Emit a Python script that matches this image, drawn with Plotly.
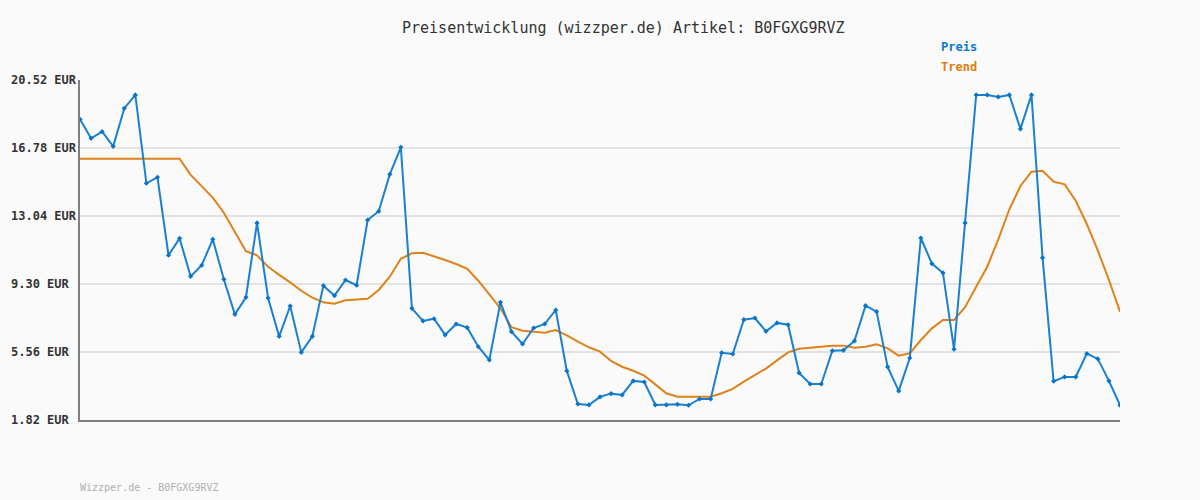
import plotly.graph_objects as go

preis = [18.36, 17.31, 17.68, 16.87, 18.96, 19.70, 14.84, 15.17, 10.88, 11.81,
         9.72, 10.33, 11.76, 9.56, 7.63, 8.57, 12.66, 8.53, 6.42, 8.09,
         5.54, 6.42, 9.21, 8.66, 9.52, 9.23, 12.82, 13.30, 15.33, 16.82,
         7.96, 7.27, 7.39, 6.50, 7.10, 6.90, 5.85, 5.12, 8.29, 6.68,
         6.00, 6.88, 7.10, 7.87, 4.52, 2.70, 2.65, 3.09, 3.27, 3.20,
         3.97, 3.91, 2.65, 2.65, 2.68, 2.63, 2.98, 2.98, 5.52, 5.45,
         7.34, 7.43, 6.70, 7.16, 7.06, 4.41, 3.80, 3.80, 5.63, 5.65,
         6.17, 8.11, 7.78, 4.74, 3.42, 5.23, 11.83, 10.42, 9.91, 5.71,
         12.66, 19.70, 19.70, 19.59, 19.70, 17.83, 19.70, 10.75, 3.95, 4.19,
         4.19, 5.47, 5.18, 3.97, 2.63]

trend = [16.19, 16.19, 16.19, 16.19, 16.19, 16.19, 16.19, 16.19, 16.19, 16.19,
         15.30, 14.65, 14.05, 13.22, 12.18, 11.10, 10.88, 10.25, 9.80, 9.39,
         8.93, 8.55, 8.29, 8.22, 8.40, 8.46, 8.49, 8.97, 9.70, 10.69,
         10.99, 11.02, 10.84, 10.62, 10.40, 10.14, 9.48, 8.70, 7.96, 6.92,
         6.73, 6.68, 6.62, 6.77, 6.48, 6.13, 5.82, 5.58, 5.07, 4.75,
         4.53, 4.26, 3.80, 3.29, 3.10, 3.10, 3.10, 3.10, 3.29, 3.53,
         3.93, 4.30, 4.65, 5.10, 5.54, 5.74, 5.80, 5.85, 5.91, 5.91,
         5.80, 5.85, 5.98, 5.76, 5.36, 5.49, 6.22, 6.86, 7.32, 7.32,
         8.02, 9.15, 10.25, 11.76, 13.41, 14.69, 15.48, 15.53, 14.93, 14.78,
         13.88, 12.60, 11.13, 9.52, 7.78]

punkte = list(range(len(preis)))

y_ticks = [1.82, 5.56, 9.30, 13.04, 16.78, 20.52]
y_tick_labels = ["1.82 EUR", "5.56 EUR", "9.30 EUR", "13.04 EUR", "16.78 EUR", "20.52 EUR"]

title_text = "Preisentwicklung (wizzper.de) Artikel: B0FGXG9RVZ"
footer_text = "Wizzper.de - B0FGXG9RVZ"

BLUE = "#1a80d0"
ORANGE = "#e0821a"
MONO = "DejaVu Sans Mono"

fig = go.Figure()

fig.add_trace(go.Scatter(
    x=punkte, y=trend, mode="lines", name="Trend",
    line=dict(color=ORANGE, width=2), hoverinfo="skip"))

fig.add_trace(go.Scatter(
    x=punkte, y=preis, mode="lines+markers", name="Preis",
    line=dict(color=BLUE, width=2),
    marker=dict(symbol="diamond", size=4, color="#0a74c8"),
    hoverinfo="skip"))

annotations = []
for v, lab in zip(y_ticks, y_tick_labels):
    annotations.append(dict(
        xref="paper", x=0, xanchor="left", xshift=-71,
        yref="y", y=v, yanchor="middle",
        text="<b>" + lab + "</b>", showarrow=False,
        font=dict(family=MONO, size=12, color="#333333")))

annotations.append(dict(
    xref="paper", x=(623 - 80) / 1040, xanchor="center",
    yref="paper", y=(420 - 28) / 340, yanchor="middle",
    text=title_text, showarrow=False,
    font=dict(family=MONO, size=15, color="#333333")))

annotations.append(dict(
    xref="paper", x=(939 - 80) / 1040, xanchor="left",
    yref="paper", y=(420 - 47) / 340, yanchor="middle",
    text="<b>Preis</b>", showarrow=False,
    font=dict(family=MONO, size=12, color="#0a78c8")))
annotations.append(dict(
    xref="paper", x=(939 - 80) / 1040, xanchor="left",
    yref="paper", y=(420 - 67) / 340, yanchor="middle",
    text="<b>Trend</b>", showarrow=False,
    font=dict(family=MONO, size=12, color="#e07c10")))

annotations.append(dict(
    xref="paper", x=0, xanchor="left", xshift=-2,
    yref="paper", y=(420 - 487) / 340, yanchor="middle",
    text=footer_text, showarrow=False,
    font=dict(family=MONO, size=10, color="#b0b0b0")))

fig.update_layout(
    width=1200, height=500,
    margin=dict(l=80, r=80, t=80, b=80),
    paper_bgcolor="#fafafa", plot_bgcolor="#fafafa",
    showlegend=False,
    annotations=annotations,
    xaxis=dict(range=[0, len(preis) - 1], showgrid=False, zeroline=False,
               showticklabels=False, ticks="", showline=True,
               linecolor="#808080", linewidth=2, fixedrange=True),
    yaxis=dict(range=[y_ticks[0], y_ticks[-1]], tickvals=y_ticks,
               showticklabels=False, ticks="", showgrid=True,
               gridcolor="#e3e3e3", gridwidth=2, zeroline=False,
               showline=True, linecolor="#808080", linewidth=2,
               fixedrange=True),
)

fig.write_html(
    "out.html",
    config={"displayModeBar": False},
    post_script="document.body.style.margin='0';"
                "document.body.style.background='#fafafa';")
